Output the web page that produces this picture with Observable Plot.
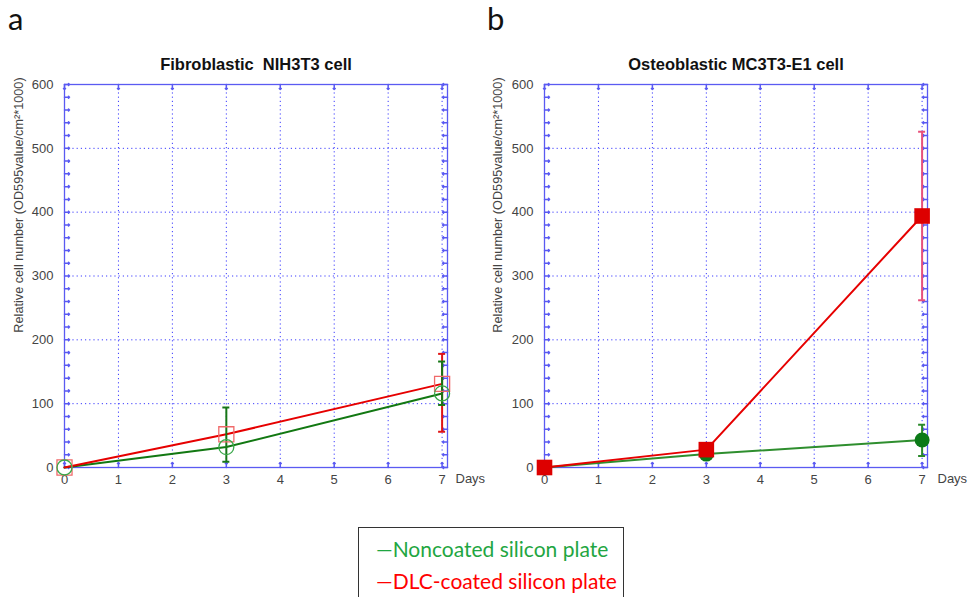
<!DOCTYPE html>
<html><head><meta charset="utf-8">
<script src="https://cdn.jsdelivr.net/npm/d3@7"></script>
<script src="https://cdn.jsdelivr.net/npm/@observablehq/plot@0.6"></script>
<style>
body{margin:0;background:#fff;}
#wrap{position:relative;width:975px;height:597px;overflow:hidden;background:#fff;}
.panel{position:absolute;top:0;}
.lab{position:absolute;font-family:Lato,"Open Sans",sans-serif;font-size:31px;color:#111;line-height:1.2;z-index:2;}
#legend{position:absolute;left:358px;top:527px;width:266px;height:90px;border:1px solid #333;box-sizing:border-box;font-family:Lato,"Open Sans",sans-serif;font-size:21px;z-index:2;background:#fff;}
#legend div{position:absolute;left:17px;white-space:nowrap;line-height:1;}
</style></head>
<body>
<div id="wrap">
  <div id="pa" class="panel" style="left:0px;"></div>
  <div id="pb" class="panel" style="left:487px;"></div>
  <div class="lab" style="left:8px;top:0px;">a</div>
  <div class="lab" style="left:487px;top:0px;">b</div>
  <div id="legend">
    <div style="top:10px;color:#1fa642;">—Noncoated silicon plate</div>
    <div style="top:42px;color:#ff0000;">—DLC-coated silicon plate</div>
  </div>
</div>
<script>
// ---- data ----
const days = [0, 3, 7];
const xTicks = [0, 1, 2, 3, 4, 5, 6, 7];
const yTicks = [0, 100, 200, 300, 400, 500, 600];
const yMinor = d3.range(0, 601, 20);
const titles = ["Fibroblastic  NIH3T3 cell", "Osteoblastic MC3T3-E1 cell"];
const yLabel = "Relative cell number (OD595value/cm²*1000)";
const xLabel = "Days";
// Panel a (NIH3T3)
const aNonMean = [0, 32, 116];
const aNonLow  = [0, 9, 98];
const aNonHigh = [0, 94, 166];
const aDlcMean = [0, 52, 131];
const aDlcLow  = [0, 52, 56];
const aDlcHigh = [0, 52, 178];
// Panel b (MC3T3-E1)
const bNonMean = [0, 21, 43];
const bNonLow  = [0, 21, 18];
const bNonHigh = [0, 21, 67];
const bDlcMean = [0, 28, 394];
const bDlcLow  = [0, 28, 262];
const bDlcHigh = [0, 28, 526];

function rows(mean, low, high) {
  return days.map((d, i) => ({day: d, v: mean[i], lo: low[i], hi: high[i]}));
}

const frameC = "#5a5af2";
const gridC = "#3c3cff";

function panel(opt) {
  const non = rows(...opt.non), dlc = rows(...opt.dlc);
  const errs = (arr) => arr.filter(d => d.hi > d.lo);
  const errMarks = (arr, color) => [
    Plot.ruleX(errs(arr), {x: "day", y1: "lo", y2: "hi", stroke: color, strokeWidth: 2}),
    Plot.ruleY(errs(arr), {y: "lo", x1: "day", x2: "day", insetLeft: -3.5, insetRight: -3.5, stroke: color, strokeWidth: 2}),
    Plot.ruleY(errs(arr), {y: "hi", x1: "day", x2: "day", insetLeft: -3.5, insetRight: -3.5, stroke: color, strokeWidth: 2})
  ];
  return Plot.plot({
    width: opt.width, height: 500,
    marginTop: 84, marginBottom: 33, marginLeft: opt.ml, marginRight: opt.mr,
    style: {fontFamily: "'Liberation Sans', Arial, sans-serif", fontSize: "13px", color: "#444", background: "#fff", overflow: "visible"},
    x: {domain: [0, 7.1], ticks: xTicks, label: null},
    y: {domain: [0, 600], ticks: yTicks, label: null},
    marks: [
      Plot.gridX(xTicks.filter(d => d > 0), {stroke: gridC, strokeOpacity: 1, strokeDasharray: "1.2,3", strokeWidth: 1}),
      Plot.gridY(yTicks.filter(d => d > 0 && d < 600), {stroke: gridC, strokeOpacity: 1, strokeDasharray: "1.2,3", strokeWidth: 1}),
      Plot.vectorY(yMinor, {y: d => d, frameAnchor: "left", rotate: 90, length: 5, anchor: "start", stroke: frameC}),
      Plot.vectorY(yMinor, {y: d => d, frameAnchor: "right", rotate: -90, length: 5, anchor: "start", stroke: frameC}),
      Plot.vectorX(xTicks, {x: d => d, frameAnchor: "top", rotate: 180, length: 5, anchor: "start", stroke: frameC}),
      Plot.vectorX(xTicks, {x: d => d, frameAnchor: "bottom", rotate: 0, length: 5, anchor: "start", stroke: frameC}),
      Plot.frame({stroke: frameC, strokeWidth: 1.3}),
      Plot.axisX(xTicks, {tickSize: 0, tickPadding: 7, fill: "#444", fontSize: 13, label: null}),
      Plot.axisY(yTicks, {tickSize: 0, tickPadding: 11, fill: "#444", fontSize: 13, label: null}),
      Plot.text([xLabel], {frameAnchor: "bottom-right", textAnchor: "start", dx: opt.daysDx, dy: 15, fill: "#444", fontSize: 13}),
      Plot.text([yLabel], {frameAnchor: "left", textAnchor: "middle", rotate: -90, dx: opt.ylDx, dy: -71, fill: "#444", fontSize: 12.7}),
      Plot.text([opt.title], {frameAnchor: "top", dy: -26, fill: "#111", fontSize: 16.5, fontWeight: "bold"}),
      Plot.line(non, {x: "day", y: "v", stroke: opt.nonLine, strokeWidth: 2}),
      Plot.line(dlc, {x: "day", y: "v", stroke: opt.dlcLine, strokeWidth: 2}),
      ...errMarks(dlc, opt.dlcErr),
      ...errMarks(non, opt.nonErr),
      ...opt.markers(non, dlc)
    ]
  });
}

const pa = panel({
  width: 487, ml: 64, mr: 40, daysDx: 8, ylDx: -46,
  title: titles[0],
  non: [aNonMean, aNonLow, aNonHigh], dlc: [aDlcMean, aDlcLow, aDlcHigh],
  nonLine: "#127812", dlcLine: "#e60000", nonErr: "#167616", dlcErr: "#e01414",
  markers: (non, dlc) => [
    Plot.dot(dlc, {x: "day", y: "v", symbol: "square", r: 8.5, stroke: "#f06a6a", strokeWidth: 1.3, fill: "none"}),
    Plot.dot(non, {x: "day", y: "v", symbol: "circle", r: 7.5, stroke: "#3aa84a", strokeWidth: 1.3, fill: "none"})
  ]
});
document.getElementById("pa").append(pa);

const pb = panel({
  width: 488, ml: 57, mr: 48, daysDx: 10, ylDx: -47,
  title: titles[1],
  non: [bNonMean, bNonLow, bNonHigh], dlc: [bDlcMean, bDlcLow, bDlcHigh],
  nonLine: "#2e8e2e", dlcLine: "#e60000", nonErr: "#2a8a2a", dlcErr: "#e8507a",
  markers: (non, dlc) => [
    Plot.dot(non, {x: "day", y: "v", symbol: "circle", r: 7.5, fill: "#0b7a18"}),
    Plot.dot(dlc, {x: "day", y: "v", symbol: "square", r: 8.8, fill: "#dd0000"})
  ]
});
document.getElementById("pb").append(pb);
</script>
</body></html>
